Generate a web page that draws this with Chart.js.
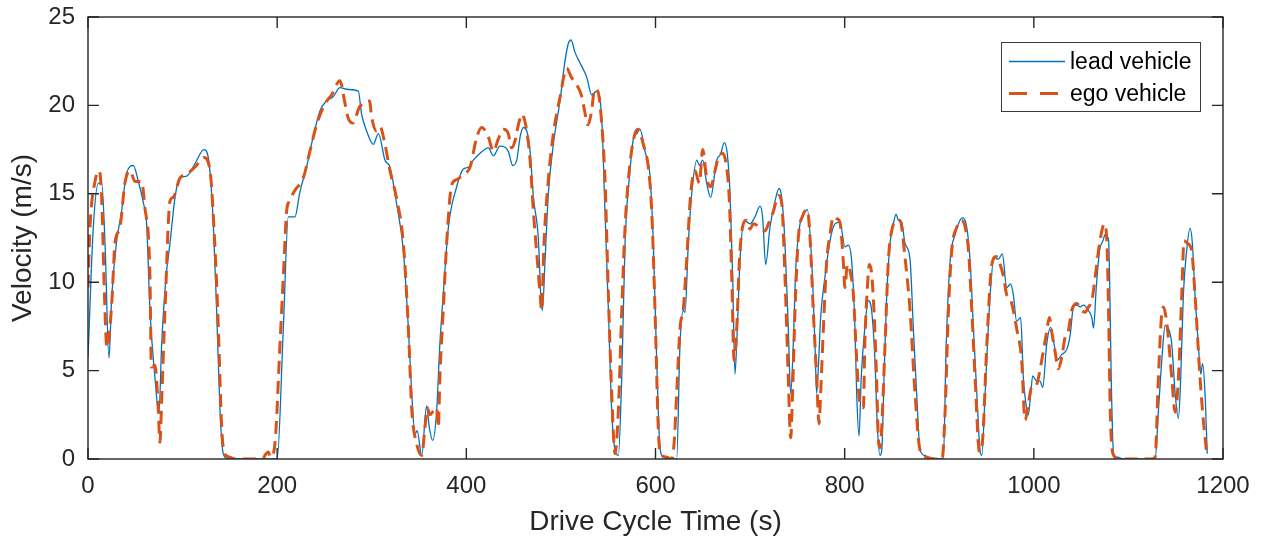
<!DOCTYPE html>
<html>
<head>
<meta charset="utf-8">
<script src="https://cdn.jsdelivr.net/npm/chart.js@4"></script>
<style>
  html, body { margin: 0; padding: 0; background: #fff; }
  #wrap { width: 1264px; height: 540px; position: relative; }
</style>
</head>
<body>
<div id="wrap"><canvas id="velocity-chart"></canvas></div>
<script>
// lead vehicle trace (time in s, velocity in m/s)
const leadTime = [0, 5.6, 11, 14.5, 18, 22.2, 25, 30, 35.5, 40.9, 47.9, 53.2, 58.5, 62, 65.5, 70.8, 75, 77.9, 82.5, 86.7,
  92, 97.3, 104.3, 113, 122.6, 127.2, 132.5, 136, 139.6, 143, 148, 199.5, 200, 206.5, 211.8, 218.8, 224, 231, 238, 245.3,
  252.3, 259.4, 266.4, 275.3, 285.8, 289.3, 294.6, 301.6, 307, 314, 319.3, 326.4, 333.4, 338.7, 342.3, 345.7, 348, 352.8, 358, 360.8,
  364.4, 368.6, 372, 375.6, 381, 389.8, 396.8, 402, 407.4, 414.5, 423.3, 428.5, 435.6, 444.4, 449, 453.3, 456.8, 460.3, 463.9, 467.4,
  470.9, 476.1, 478.7, 480.4, 483.2, 486.7, 492, 499, 504.3, 507.8, 510.7, 514.9, 520.2, 527.3, 532.5, 537.8, 543.1, 546.6, 550.2, 553.7,
  557.2, 560.7, 564.3, 567.8, 573, 576.6, 580.1, 583.6, 588.9, 594.2, 597.7, 601.3, 604.8, 608.3, 612, 622.4, 625.9, 629.4, 631.2, 634.7,
  638.3, 643.6, 646.4, 649.9, 654.1, 658.3, 664.7, 668.9, 672.7, 675.9, 678.8, 681.6, 684, 686.5, 689.3, 693.9, 699.9, 705.2, 710.5, 713.2,
  716.5, 721, 726.4, 730.6, 733.4, 736.9, 740.4, 742.9, 745.7, 748.2, 752.8, 757, 760.5, 765.1, 768.6, 770.4, 772.2, 774.6, 779.2, 784.5,
  789.8, 795, 800.3, 803.9, 807.4, 810.9, 812.7, 815.2, 817.5, 821.3, 825, 828.5, 832, 834.6, 837.4, 839.2, 841.6, 844.5, 848, 851.5,
  854.3, 856.8, 860.3, 863.8, 869.1, 872.6, 876.1, 879.7, 884.9, 890.2, 904.3, 907.4, 911.5, 916.8, 922, 924.9, 929.1, 932.6, 936.1, 939.7,
  943.1, 945, 948.5, 953.8, 958, 962.5, 966.7, 971.3, 975.5, 978.3, 981.8, 986.1, 988.9, 991.7, 994.2, 996.7, 998.8, 1003, 1006.6, 1009.4,
  1013.6, 1017.9, 1021.4, 1024.9, 1029.5, 1034.8, 1038.4, 1041.9, 1045.4, 1049, 1052.5, 1057.8, 1061.3, 1063.1, 1066, 1069.5, 1073.1, 1075.5, 1079, 1080.1,
  1081.8, 1084.3, 1088.5, 1094.8, 1128.2, 1131.7, 1135.3, 1138.8, 1142.3, 1145.8, 1149.4, 1152.9, 1155.3, 1158.1, 1161.6, 1165.1, 1167.6, 1170.4, 1173.9, 1176.4,
  1178.5, 1181, 1183.3]
const leadSpeed = [5.75, 13.1, 15.6, 15.6, 12.2, 5.7, 9.1, 12.2, 14.0, 16.2, 16.6, 15.7, 14.5, 13.3, 8.4, 4.6, 2.6, 6.5, 10.3, 12.2,
  14.8, 15.9, 16.0, 16.7, 17.5, 17.05, 13.3, 8.4, 2.7, 0.3, 0, 0, 0, 7.4, 13.7, 13.7, 15.1, 16.5, 18.2, 19.7,
  20.25, 20.5, 21.0, 20.9, 20.8, 19.5, 18.55, 17.8, 18.4, 16.9, 16.5, 14.4, 11.8, 7.4, 3.7, 1.4, 1.6, 0.2, 3.0, 1.8,
  1.05, 2.7, 6.5, 9.3, 13.1, 15.4, 16.4, 16.5, 16.9, 17.3, 17.6, 17.15, 17.7, 17.4, 16.6, 16.9, 18.2, 18.75, 18.55, 17.4,
  14.8, 12.5, 9.3, 8.4, 11.2, 15.0, 17.8, 20.25, 22.5, 23.5, 23.7, 23.0, 22.4, 21.6, 20.6, 20.8, 19.3, 14.0, 8.4, 2.7,
  0.5, 0.2, 4.6, 12.2, 16.3, 18.1, 18.4, 18.65, 17.4, 16.0, 12.2, 5.5, 0.6, 0.1, 0, 0, 6.5, 8.4, 8.3, 12.2,
  15.0, 16.9, 16.6, 16.9, 15.6, 14.8, 16.9, 17.25, 17.9, 17.25, 15.0, 10.3, 4.8, 7.4, 11.2, 13.5, 13.3, 13.7, 14.3, 13.7,
  11.0, 13.1, 14.6, 15.3, 14.8, 12.2, 7.4, 3.7, 6.5, 10.65, 13.3, 13.9, 14.1, 11.2, 6.5, 3.7, 5.2, 8.0, 10.3, 12.35,
  13.3, 13.4, 12.0, 12.1, 11.2, 7.4, 3.7, 1.3, 4.6, 7.4, 8.95, 8.4, 5.6, 1.8, 0.2, 0.5, 4.6, 9.3, 12.2, 13.3,
  13.85, 13.5, 13.4, 12.2, 11.3, 7.4, 3.7, 0.5, 0.2, 0, 0, 6.5, 11.2, 12.7, 13.5, 13.65, 13.1, 11.2, 7.4, 3.7,
  0.5, 0.2, 3.7, 9.3, 11.4, 11.3, 11.6, 9.7, 9.9, 9.3, 7.8, 8.0, 4.6, 3.1, 2.5, 3.7, 4.7, 4.4, 4.4, 4.05,
  6.5, 7.45, 6.5, 5.6, 5.9, 6.2, 7.0, 8.6, 8.7, 8.6, 8.7, 8.4, 8.0, 7.4, 9.7, 11.8, 12.35, 12.7, 12.4, 10.3,
  4.6, 0.3, 0.1, 0, 0, 2.7, 5.6, 7.55, 7.4, 6.5, 3.7, 2.3, 4.6, 9.3, 11.8, 13.05, 12.2, 9.3, 6.5, 4.8,
  5.4, 3.7, 0.3]

// ego vehicle trace
const egoTime = [0, 2, 7.4, 12, 14.5, 17.4, 20, 25, 28.5, 33.8, 39, 44.4, 49.7, 56.7, 60, 65.5, 67, 70.8, 74.4, 76,
  78, 81.4, 86.7, 90, 97.3, 104, 113, 122.6, 129, 134, 137.8, 141.3, 144.4, 150, 155, 185, 187, 190.6, 193, 197.7,
  203, 206.5, 210, 213, 218.8, 227.6, 234.6, 241.7, 250.6, 257.6, 266.4, 271.2, 275, 280, 287, 297.6, 300, 305, 308.7, 314,
  319.3, 326.4, 333.4, 338.7, 342.3, 347.5, 352.8, 356.3, 358.8, 361.5, 364.9, 368.6, 370.4, 372, 375.6, 379.2, 384.5, 389.8, 396.8, 403.9,
  411, 416.3, 423.3, 428.5, 433.8, 439.1, 444.4, 447.9, 451.5, 455, 458.6, 463.9, 467.4, 470.9, 475.1, 478, 479.6, 482.1, 486.7, 492,
  499, 506.1, 511, 516.2, 521.5, 525, 528.5, 532.5, 535.5, 539, 543.1, 546.6, 550.2, 553.7, 557.2, 560.7, 564.3, 567.8, 573, 578.3,
  581.8, 587.1, 592.4, 596, 599.5, 602.9, 604.8, 611.8, 617, 619.6, 622.4, 625.9, 629.4, 632.9, 637.2, 641.8, 646.4, 649.9, 654.1, 658.3,
  662.9, 666.4, 671, 674.6, 678.1, 680.6, 683.1, 685.9, 688.7, 692.8, 696.3, 699.9, 703.5, 710.5, 715.8, 719.4, 724.6, 729.9, 733.4, 736.9,
  740.4, 742.9, 744.9, 747.5, 751, 755.6, 760.5, 763.3, 766.8, 770.4, 772.9, 774.6, 777.5, 781, 784.5, 788, 791.6, 795, 798.5, 800.3,
  802.8, 805.6, 809.2, 812.7, 816.3, 819.8, 821.3, 824, 826.1, 828.5, 831, 833.7, 835.6, 837.4, 839.2, 842.7, 846.2, 849.7, 855, 858.5,
  863.8, 869.1, 874.4, 879.7, 886.6, 895.5, 903, 906.2, 909.7, 913.2, 918.5, 923.8, 927.4, 930.9, 934.4, 937.9, 942.5, 946, 950.3, 955.6,
  960.2, 964.4, 968, 971.3, 974.8, 978.3, 981.8, 987.1, 990.7, 994.2, 997.7, 1001.4, 1004.9, 1008.4, 1013.6, 1016.4, 1018.9, 1022.4, 1025.9, 1029.5,
  1032.9, 1036.4, 1040, 1045.4, 1050.7, 1054.3, 1057.8, 1061.3, 1064.9, 1068.4, 1071.9, 1074.5, 1077.3, 1079, 1080.8, 1083.6, 1089.6, 1125, 1128.2, 1131.7,
  1134.6, 1137, 1141.2, 1145.8, 1149.4, 1152.9, 1156.4, 1158.8, 1162.3, 1166.8, 1170.4, 1175.7, 1179.2, 1182.8]
const egoSpeed = [9.7, 13, 15.7, 16.3, 14.7, 9.3, 6.3, 8.7, 12.2, 13.1, 15.6, 16.3, 15.7, 15.7, 14.3, 10.3, 5.2, 5.3, 2.7, 0.95,
  3.5, 8.4, 14.6, 14.8, 15.9, 16.1, 16.5, 17.05, 16.3, 12.2, 7.4, 1.8, 0.3, 0.1, 0, 0, 0.2, 0.4, 0.1, 0.9,
  6.5, 10.3, 14.0, 14.6, 15.2, 15.9, 17.4, 18.9, 20.1, 20.6, 21.4, 20.25, 19.3, 19.0, 19.9, 20.25, 19.3, 18.55, 18.8, 17.8,
  16.3, 14.7, 12.2, 7.4, 2.8, 0.85, 0.2, 1.8, 2.9, 2.5, 2.7, 2.9, 1.8, 4.6, 8.4, 12.2, 15.5, 15.8, 16.1, 16.5,
  18.2, 18.75, 18.2, 17.4, 18.1, 18.65, 18.4, 17.6, 18.0, 18.9, 19.5, 18.55, 16.9, 14.0, 11.2, 9.3, 8.4, 12.2, 15.8, 18.4,
  20.45, 22.1, 21.6, 21.2, 20.6, 19.7, 18.9, 19.7, 20.9, 20.8, 19.0, 15.8, 9.3, 3.7, 0.3, 2.7, 8.4, 13.1, 16.7, 18.4,
  18.65, 17.8, 16.5, 14.0, 8.4, 1.8, 0.4, 0.1, 0, 0.85, 3.7, 7.4, 8.5, 11.2, 15.0, 16.3, 15.6, 17.5, 15.9, 15.4,
  16.3, 17.05, 17.3, 16.7, 14.6, 10.3, 5.6, 7.4, 11.2, 13.3, 13.5, 13.0, 13.3, 13.1, 12.9, 13.3, 14.0, 14.9, 14.5, 10.3,
  4.6, 1.2, 3.7, 8.4, 12.5, 13.75, 14.1, 12.6, 8.4, 4.6, 2.0, 3.7, 7.4, 11.2, 12.7, 13.7, 13.6, 13.4, 11.2, 9.7,
  11.0, 10.65, 9.3, 5.6, 3.1, 2.9, 6.5, 9.7, 11.0, 10.5, 8.4, 4.6, 1.2, 0.65, 1.8, 6.5, 11.2, 12.9, 13.5, 13.5,
  11.4, 8.4, 3.7, 0.5, 0.1, 0, 0, 2.7, 8.4, 11.8, 13.1, 13.5, 13.1, 11.8, 8.4, 4.6, 0.4, 1.2, 6.5, 11.0,
  11.45, 11.0, 10.3, 9.3, 9.1, 8.4, 7.4, 5.6, 2.2, 3.1, 4.05, 4.05, 4.6, 5.6, 7.2, 8.0, 7.2, 6.1, 5.1, 5.75,
  6.85, 7.2, 8.4, 8.8, 8.4, 8.3, 8.6, 8.95, 10.3, 11.8, 12.9, 13.3, 12.2, 8.4, 2.7, 0.3, 0, 0, 0.1, 4.6,
  7.8, 8.6, 7.4, 4.6, 2.65, 4.6, 9.3, 12.35, 12.2, 11.8, 9.3, 4.6, 2.2, 0.3]

const xTicks = [0, 200, 400, 600, 800, 1000, 1200]
const yTicks = [0, 5, 10, 15, 20, 25]
const seriesNames = ["lead vehicle", "ego vehicle"]
const seriesColors = ["#0072BD", "#D95319"]

const axisColor = "#262626"
const fontFamily = "'Liberation Sans', Arial, Helvetica, sans-serif"

function toPoints(xs, ys) {
  let pts = []
  for (let i = 0; i < xs.length; i++) {
    pts.push({x: xs[i], y: ys[i]})
  }
  return pts
}

// box around the plot, inward ticks on all four sides, and the legend
const matlabAxes = {
  id: 'matlabAxes',
  afterDraw(chart) {
    const ctx = chart.ctx
    const area = chart.chartArea
    const xs = chart.scales.x
    const ys = chart.scales.y
    const tl = 11
    ctx.save()
    ctx.strokeStyle = axisColor
    ctx.lineWidth = 1.4
    ctx.strokeRect(area.left, area.top, area.right - area.left, area.bottom - area.top)
    ctx.beginPath()
    xTicks.forEach(v => {
      const px = xs.getPixelForValue(v)
      ctx.moveTo(px, area.bottom); ctx.lineTo(px, area.bottom - tl)
      ctx.moveTo(px, area.top); ctx.lineTo(px, area.top + tl)
    })
    yTicks.forEach(v => {
      const py = ys.getPixelForValue(v)
      ctx.moveTo(area.left, py); ctx.lineTo(area.left + tl, py)
      ctx.moveTo(area.right, py); ctx.lineTo(area.right - tl, py)
    })
    ctx.stroke()

    // legend box
    const lx = 1001, ly = 42, lw = 199, lh = 69
    ctx.fillStyle = "#fff"
    ctx.fillRect(lx, ly, lw, lh)
    ctx.strokeStyle = "#3c3c3c"
    ctx.lineWidth = 1
    ctx.strokeRect(lx + 0.5, ly + 0.5, lw, lh)
    ctx.font = "23px " + fontFamily
    ctx.textBaseline = "middle"
    ctx.fillStyle = "#000"
    const rows = [61.5, 93.5]
    ctx.beginPath()
    ctx.strokeStyle = seriesColors[0]
    ctx.lineWidth = 1.3
    ctx.moveTo(lx + 8, rows[0]); ctx.lineTo(lx + 64, rows[0])
    ctx.stroke()
    ctx.beginPath()
    ctx.strokeStyle = seriesColors[1]
    ctx.lineWidth = 3
    ctx.setLineDash([18, 13])
    ctx.moveTo(lx + 8, rows[1]); ctx.lineTo(lx + 64, rows[1])
    ctx.stroke()
    ctx.setLineDash([])
    ctx.fillText(seriesNames[0], lx + 69, rows[0] + 1)
    ctx.fillText(seriesNames[1], lx + 69, rows[1] + 1)
    ctx.restore()
  }
}

new Chart(document.getElementById("velocity-chart"), {
  type: 'line',
  data: {
    datasets: [{
        label: seriesNames[0],
        data: toPoints(leadTime, leadSpeed),
        borderColor: seriesColors[0],
        borderWidth: 1.3,
        pointRadius: 0,
        fill: false,
        cubicInterpolationMode: 'monotone',
        order: 2
      }, {
        label: seriesNames[1],
        data: toPoints(egoTime, egoSpeed),
        borderColor: seriesColors[1],
        borderWidth: 3,
        borderDash: [13, 7],
        pointRadius: 0,
        fill: false,
        cubicInterpolationMode: 'monotone',
        order: 1
      }
    ]
  },
  options: {
    responsive: true,
    maintainAspectRatio: false,
    animation: false,
    layout: { padding: { top: 17, right: 41, left: 0, bottom: 0 } },
    plugins: {
      legend: { display: false },
      tooltip: { enabled: false }
    },
    scales: {
      x: {
        type: 'linear',
        min: 0,
        max: 1200,
        afterBuildTicks: s => { s.ticks = xTicks.map(v => ({value: v})) },
        afterFit: s => { s.height = 81; s.paddingLeft = 0; s.paddingRight = 0 },
        grid: { display: false, drawTicks: false },
        border: { display: false },
        ticks: { padding: 13, color: axisColor, font: { size: 24, family: fontFamily }, maxRotation: 0,
                 callback: v => String(v) },
        title: { display: true, text: 'Drive Cycle Time (s)', color: axisColor,
                 font: { size: 28, family: fontFamily }, padding: { top: 0, bottom: 1 } }
      },
      y: {
        min: 0,
        max: 25,
        afterBuildTicks: s => { s.ticks = yTicks.map(v => ({value: v})) },
        afterFit: s => { s.width = 88; s.paddingTop = 0; s.paddingBottom = 0 },
        grid: { display: false, drawTicks: false },
        border: { display: false },
        ticks: { padding: 13, color: axisColor, font: { size: 24, family: fontFamily },
                 callback: v => String(v) },
        title: { display: true, text: 'Velocity (m/s)', color: axisColor,
                 font: { size: 28, family: fontFamily }, padding: { top: 6, bottom: 0 } }
      }
    }
  },
  plugins: [matlabAxes]
});
</script>
</body>
</html>
